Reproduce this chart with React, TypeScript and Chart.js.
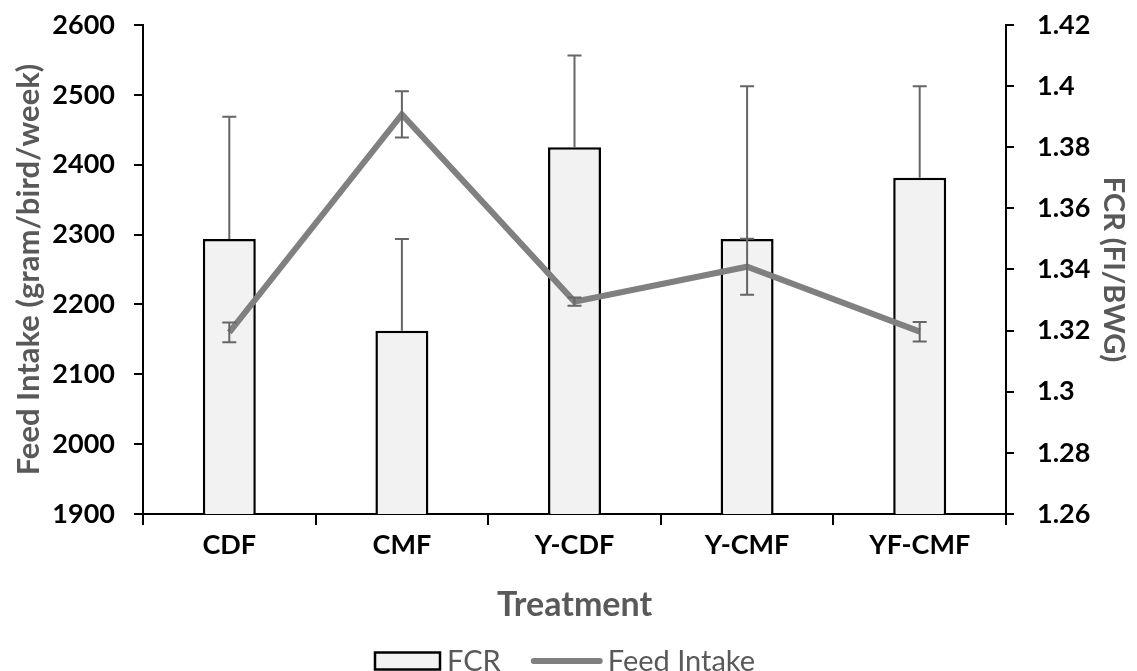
import React, { useEffect, useRef } from 'react';
import { Chart, registerables } from 'chart.js';

Chart.register(...registerables);

const categories = ['CDF', 'CMF', 'Y-CDF', 'Y-CMF', 'YF-CMF'];
const fcrValues = [1.35, 1.32, 1.38, 1.35, 1.37];
const fcrErrors = [0.04, 0.03, 0.03, 0.05, 0.03];
const feedIntakeValues = [2160, 2472, 2204, 2254, 2161];
const feedIntakeErrors = [14, 33, 6, 40, 14];
const feedIntakeTicks = [1900, 2000, 2100, 2200, 2300, 2400, 2500, 2600];
const fcrTicks = [1.26, 1.28, 1.3, 1.32, 1.34, 1.36, 1.38, 1.4, 1.42];

const FONT = 'Lato, "Open Sans", sans-serif';
const GREY_TEXT = '#595959';
const LINE_GREY = '#808080';
const ERR_GREY = '#666666';

const errorBarPlugin = {
  id: 'errorBars',
  afterDatasetsDraw(chart: any) {
    const ctx = chart.ctx;
    ctx.save();
    ctx.strokeStyle = ERR_GREY;
    ctx.lineWidth = 2;
    const cap = 7;
    chart.data.datasets.forEach((ds: any, di: number) => {
      const meta = chart.getDatasetMeta(di);
      const yScale = chart.scales[ds.yAxisID];
      const plusOnly = ds.type === 'bar';
      meta.data.forEach((el: any, i: number) => {
        const v = ds.data[i];
        const e = ds.errors[i];
        const px = el.x;
        const top = yScale.getPixelForValue(v + e);
        const bot = plusOnly ? yScale.getPixelForValue(v) : yScale.getPixelForValue(v - e);
        ctx.beginPath();
        ctx.moveTo(px, top);
        ctx.lineTo(px, bot);
        ctx.moveTo(px - cap, top);
        ctx.lineTo(px + cap, top);
        if (!plusOnly) {
          ctx.moveTo(px - cap, bot);
          ctx.lineTo(px + cap, bot);
        }
        ctx.stroke();
      });
    });
    ctx.restore();
  },
};

const legendPlugin = {
  id: 'customLegend',
  afterDraw(chart: any) {
    const ctx = chart.ctx;
    ctx.save();
    ctx.font = `29px ${FONT}`;
    ctx.textBaseline = 'middle';
    const wF = ctx.measureText('FCR').width;
    const boxW = 65, boxH = 17, gap1 = 7, gap2 = 30, lineW = 72, gap3 = 5;
    const y = 661;
    let x = 375;
    ctx.fillStyle = '#f2f2f2';
    ctx.fillRect(x, y - boxH / 2, boxW, boxH);
    ctx.strokeStyle = '#000';
    ctx.lineWidth = 2.5;
    ctx.strokeRect(x, y - boxH / 2, boxW, boxH);
    x += boxW + gap1;
    ctx.fillStyle = GREY_TEXT;
    ctx.fillText('FCR', x, y + 1);
    x += wF + gap2;
    ctx.strokeStyle = LINE_GREY;
    ctx.lineWidth = 6;
    ctx.lineCap = 'round';
    ctx.beginPath();
    ctx.moveTo(x + 3, y);
    ctx.lineTo(x + lineW - 3, y);
    ctx.stroke();
    x += lineW + gap3;
    ctx.fillText('Feed Intake', x, y + 1);
    ctx.restore();
  },
};

export default function App() {
  const ref = useRef<HTMLCanvasElement | null>(null);

  useEffect(() => {
    if (!ref.current) return;
    const tickFont = { family: FONT, size: 27, weight: 'bold' as const };
    const chart = new Chart(ref.current, {
      type: 'bar',
      data: {
        labels: categories,
        datasets: [
          {
            type: 'line',
            label: 'Feed Intake',
            data: feedIntakeValues,
            errors: feedIntakeErrors,
            yAxisID: 'yLeft',
            borderColor: LINE_GREY,
            backgroundColor: LINE_GREY,
            borderWidth: 6,
            pointRadius: 0,
            pointHoverRadius: 0,
            tension: 0,
            fill: false,
          } as any,
          {
            type: 'bar',
            label: 'FCR',
            data: fcrValues,
            errors: fcrErrors,
            yAxisID: 'yRight',
            backgroundColor: '#f2f2f2',
            borderColor: '#000000',
            borderWidth: 2.5,
            barPercentage: 0.307,
            categoryPercentage: 1,
          } as any,
        ],
      },
      options: {
        responsive: false,
        animation: false,
        events: [],
        layout: { padding: { top: 25, bottom: 40, left: 0, right: 0 } },
        plugins: {
          legend: { display: false },
          tooltip: { enabled: false },
        },
        scales: {
          x: {
            offset: true,
            grid: {
              offset: true,
              drawOnChartArea: false,
              drawTicks: true,
              tickLength: 11,
              color: '#000',
              lineWidth: 2,
            },
            border: { display: true, color: '#000', width: 2 },
            ticks: { font: tickFont, color: '#000', padding: 4 },
            title: {
              display: true,
              text: 'Treatment',
              color: GREY_TEXT,
              font: { family: FONT, size: 34, weight: 'bold' },
              padding: { top: 0, bottom: 6 },
            },
            afterFit: (s: any) => {
              s.height = 117;
            },
          },
          yLeft: {
            type: 'linear',
            position: 'left',
            min: 1900,
            max: 2600,
            afterBuildTicks: (s: any) => {
              s.ticks = feedIntakeTicks.map((v) => ({ value: v }));
            },
            grid: {
              drawOnChartArea: false,
              drawTicks: true,
              tickLength: 9,
              color: '#000',
              lineWidth: 2,
            },
            border: { display: true, color: '#000', width: 2 },
            ticks: { font: tickFont, color: '#000', padding: 19, callback: (v: any) => String(v) },
            title: {
              display: true,
              text: 'Feed Intake (gram/bird/week)',
              color: GREY_TEXT,
              font: { family: FONT, size: 31, weight: 'bold' },
              padding: { top: 10, bottom: 0 },
            },
            afterFit: (s: any) => {
              s.width = 143;
              s.paddingTop = 0;
              s.paddingBottom = 0;
            },
          },
          yRight: {
            type: 'linear',
            position: 'right',
            min: 1.26,
            max: 1.42,
            afterBuildTicks: (s: any) => {
              s.ticks = fcrTicks.map((v) => ({ value: v }));
            },
            grid: {
              drawOnChartArea: false,
              drawTicks: true,
              tickLength: 8,
              color: '#000',
              lineWidth: 2,
            },
            border: { display: true, color: '#000', width: 2 },
            ticks: { font: tickFont, color: '#000', padding: 23, callback: (v: any) => String(Number(Number(v).toFixed(2))) },
            title: {
              display: true,
              text: 'FCR (FI/BWG)',
              color: GREY_TEXT,
              font: { family: FONT, size: 29, weight: 'bold' },
              padding: { top: 6, bottom: 0 },
            },
            afterFit: (s: any) => {
              s.width = 131;
              s.paddingTop = 0;
              s.paddingBottom = 0;
            },
          },
        },
      } as any,
      plugins: [errorBarPlugin, legendPlugin],
    });
    return () => chart.destroy();
  }, []);

  return (
    <div style={{ position: 'fixed', left: 0, top: 0, width: 1137, height: 671, background: '#fff' }}>
      <canvas ref={ref} width={1137} height={671} style={{ display: 'block' }} />
    </div>
  );
}
